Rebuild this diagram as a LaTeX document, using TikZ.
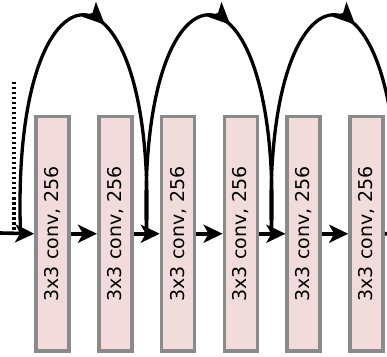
\documentclass[tikz,border=0pt]{standalone}
\usepackage{fontspec}
\setmainfont{DejaVu Sans}
\usetikzlibrary{arrows.meta,decorations.markings}
\definecolor{boxfill}{HTML}{F2DCDB}
\definecolor{boxedge}{HTML}{8A8A8A}
\tikzset{
  headtip/.tip={Stealth[length=19pt,width=18pt,inset=5pt]},
  archtip/.tip={Stealth[length=22pt,width=20pt,inset=5pt]}
}
\begin{document}
\begin{tikzpicture}[x=1pt,y=1pt,
  convbox/.style={draw=boxedge, fill=boxfill, line width=3.6pt, rotate=90,
    minimum width=234.5pt, minimum height=33pt, inner sep=0pt,
    font=\fontsize{19}{22}\selectfont},
  flow/.style={line width=3.6pt, -headtip},
  skip/.style={line width=3.3pt, postaction={decorate},
    decoration={markings, mark=at position 0.55 with
      {\arrow[line width=3.3pt]{archtip}}}},
  feed/.style={line width=4pt, dash pattern=on 2.5pt off 2.5pt}]
\useasboundingbox (0,0) rectangle (387,356);
\clip (0,0) rectangle (387,356);

% stack of six 3x3 conv layers
\foreach \i/\x in {1/52.5,2/115.3,3/178.1,4/240.9,5/303.7,6/366.5}
  \node[convbox] (b\i) at (\x,122.25) {3x3 conv, 256};

% junctions where the shortcuts leave and rejoin the main path
\coordinate (in)  at (0,123);
\coordinate (j1)  at (20.5,123);
\coordinate (j2)  at (146.5,123);
\coordinate (j3)  at (271.5,123);
\coordinate (j4)  at (396.5,123);
\coordinate (out) at (420,123);
\coordinate (dtop) at (14,274);
\coordinate (dbot) at (14,123);

% main path
\draw[flow] (in) -- (b1.north);
\foreach \a/\b in {1/2,2/3,3/4,4/5,5/6}
  \draw[flow] (b\a.south) -- (b\b.north);
\draw[flow] (b6.south) -- (out);

% incoming dotted shortcut
\draw[feed] (dtop) -- (dbot);

% identity shortcuts spanning two layers
\draw[skip] (j1) .. controls (10.5,414) and (156.5,414) .. (j2);
\draw[skip] (j2) .. controls (136.5,414) and (281.5,414) .. (j3);
\draw[skip] (j3) .. controls (261.5,414) and (406.5,414) .. (j4);
\end{tikzpicture}
\end{document}
